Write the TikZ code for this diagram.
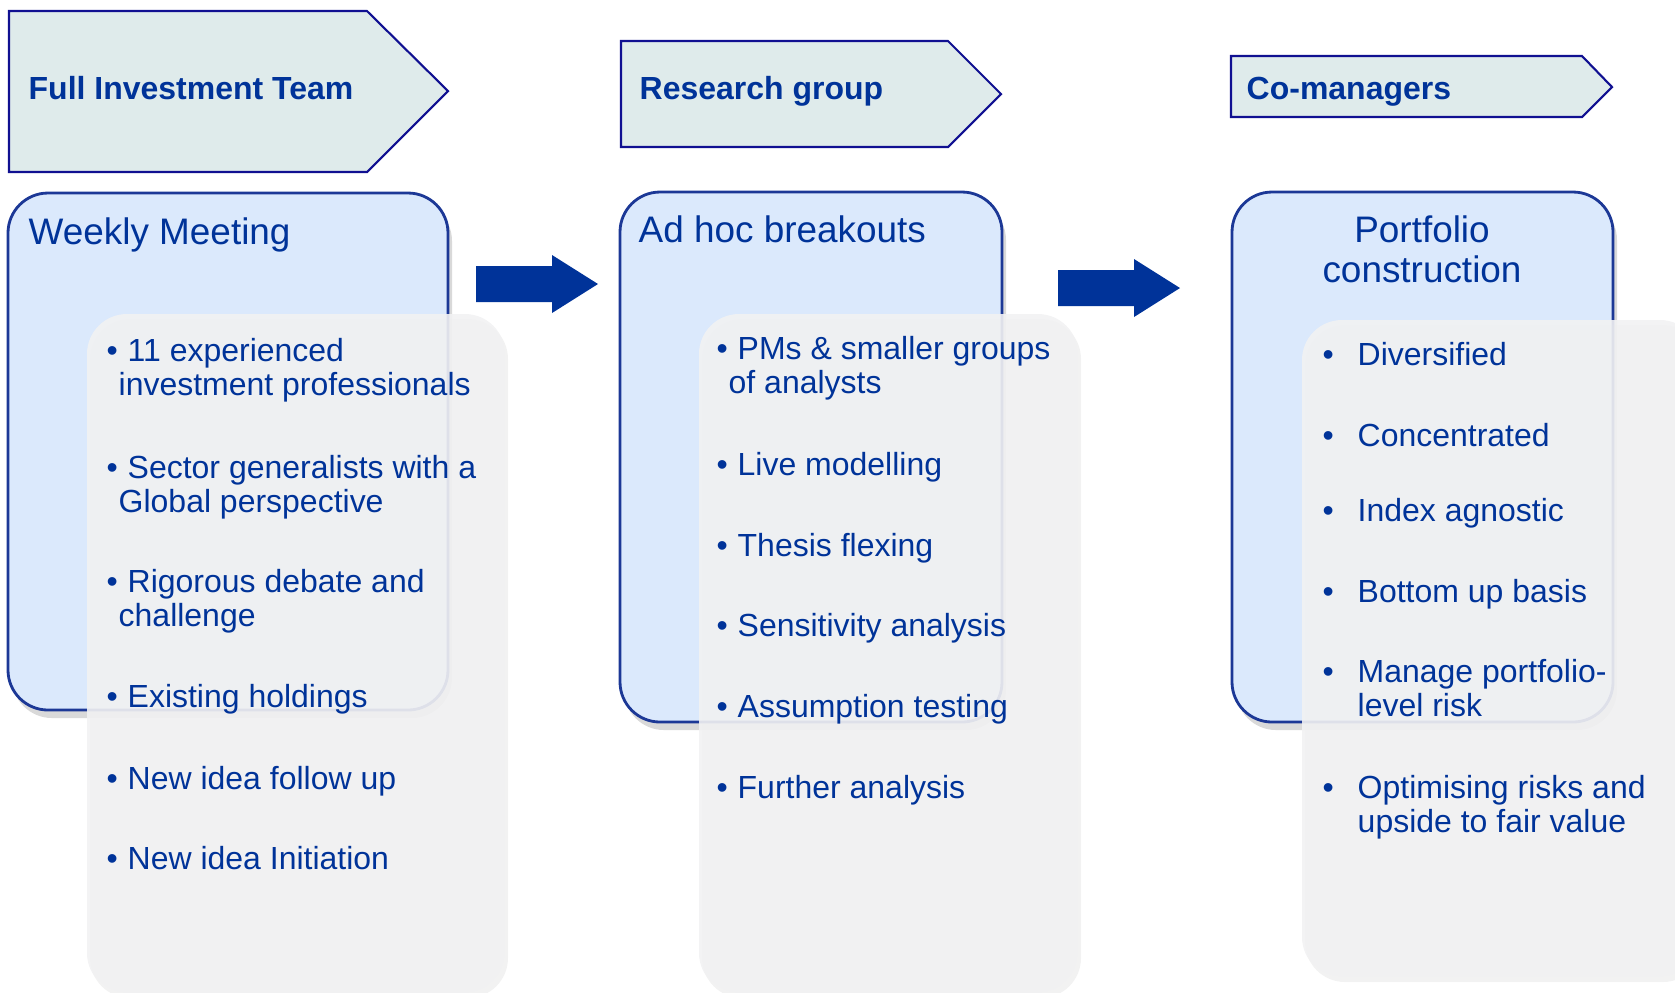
\documentclass[tikz,border=0pt]{standalone}
\usepackage{fontspec}
\setmainfont{Liberation Sans}
\usetikzlibrary{shadows}

\definecolor{navy}{RGB}{0,51,153}
\definecolor{hdredge}{RGB}{16,16,145}
\definecolor{hdrfill}{RGB}{223,235,235}
\definecolor{boxfill}{RGB}{219,233,252}
\definecolor{boxedge}{RGB}{28,56,150}
\definecolor{cardfill}{RGB}{242,242,243}

% bullet, then a (possibly multi-line) text column
\newcommand{\bulitem}[2]{\begin{tabular}[t]{@{}p{#1}@{}l@{}}\textbullet & \begin{tabular}[t]{@{}l@{}}#2\end{tabular}\end{tabular}}

\tikzset{
  hdr/.style={draw=hdredge, fill=hdrfill, line width=0.6pt},
  hdrtext/.style={anchor=base west, inner sep=0, text=navy, font=\fontsize{9.1}{10}\selectfont\bfseries},
  group/.style={draw=boxedge, fill=boxfill, line width=0.8pt, rounded corners=4mm,
    drop shadow={opacity=0.3, shadow xshift=0.4mm, shadow yshift=-0.8mm}},
  card/.style={fill=cardfill, fill opacity=0.9, rounded corners=4mm,
    drop shadow={opacity=0.1, shadow xshift=0.3mm, shadow yshift=-0.5mm}},
  title/.style={inner sep=0, text=navy, font=\fontsize{10.5}{11.4}\selectfont},
  item/.style={anchor=base west, inner sep=0, text=navy, font=\fontsize{9.1}{9.8}\selectfont},
  pics/blockarrow/.style={code={
    \fill[navy] (0,-1.8) -- (7.6,-1.8) -- (7.6,-2.9) -- (12.2,0) -- (7.6,2.9) -- (7.6,1.8) -- (0,1.8) -- cycle;}}
}

\begin{document}
\begin{tikzpicture}[x=1mm,y=-1mm]
\useasboundingbox (0,0) rectangle (167.5,99.2);

% headers
\draw[hdr] (0.9,1.1) -- (36.7,1.1) -- (44.8,9.1) -- (36.7,17.2) -- (0.9,17.2) -- cycle;
\draw[hdr] (62.1,4.1) -- (94.8,4.1) -- (100.1,9.4) -- (94.8,14.7) -- (62.1,14.7) -- cycle;
\draw[hdr] (123.1,5.6) -- (158.2,5.6) -- (161.2,8.7) -- (158.2,11.7) -- (123.1,11.7) -- cycle;
\node[hdrtext] (team) at (2.8,9.9) {Full Investment Team};
\node[hdrtext] (research) at (63.9,9.9) {Research group};
\node[hdrtext] (comanagers) at (124.6,9.9) {Co-managers};

% stage boxes
\draw[group] (0.8,19.3) rectangle (44.8,71.0);
\draw[group] (62.0,19.2) rectangle (100.2,72.2);
\draw[group] (123.2,19.2) rectangle (161.3,72.2);

\pic at (47.6,28.4) {blockarrow};
\pic at (105.8,28.8) {blockarrow};

% detail cards
\fill[card] (8.7,31.4) rectangle (50.5,99.3);
\fill[card] (69.9,31.4) rectangle (107.8,99.3);
\fill[card] (130.2,32.0) rectangle (170.0,97.7);

\node[title, anchor=base west] (weekly) at (2.8,24.4) {Weekly Meeting};
\node[title, anchor=base west] (adhoc) at (63.8,24.2) {Ad hoc breakouts};
\node[title, anchor=base] (portfolio) at (142.2,24.2)
  {\begin{tabular}[t]{@{}c@{}}Portfolio\\construction\end{tabular}};

\foreach \t/\y [count=\i] in {
    {11 experienced\\\hspace*{-0.9mm}investment professionals}/36.1,
    {Sector generalists with a\\\hspace*{-0.9mm}Global perspective}/47.8,
    {Rigorous debate and\\\hspace*{-0.9mm}challenge}/59.2,
    {Existing holdings}/70.7,
    {New idea follow up}/78.9,
    {New idea Initiation}/86.9}
  \node[item] (w\i) at (10.6,\y) {\bulitem{2.1mm}{\t}};

\foreach \t/\y [count=\i] in {
    {PMs \& smaller groups\\\hspace*{-0.9mm}of analysts}/35.9,
    {Live modelling}/47.5,
    {Thesis flexing}/55.6,
    {Sensitivity analysis}/63.6,
    {Assumption testing}/71.7,
    {Further analysis}/79.8}
  \node[item] (a\i) at (71.6,\y) {\bulitem{2.1mm}{\t}};

\foreach \t/\y [count=\i] in {
    {Diversified}/36.5,
    {Concentrated}/44.6,
    {Index agnostic}/52.1,
    {Bottom up basis}/60.2,
    {Manage portfolio-\\level risk}/68.2,
    {Optimising risks and\\upside to fair value}/79.8}
  \node[item] (p\i) at (132.2,\y) {\bulitem{3.5mm}{\t}};
\end{tikzpicture}
\end{document}
